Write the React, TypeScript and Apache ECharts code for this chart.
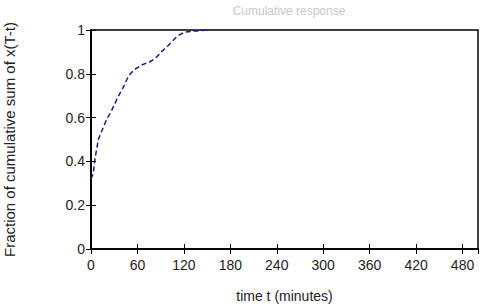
import React, { useEffect, useRef } from "react";
import * as echarts from "echarts";

const timeMinutes = [0, 3, 5, 9.5, 14, 20, 27, 35, 42, 48, 55, 65.5, 76, 83, 91, 100, 111, 120, 135, 150];
const cumulativeFraction = [0.32, 0.346, 0.41, 0.5, 0.54, 0.59, 0.635, 0.695, 0.74, 0.787, 0.817, 0.84, 0.855, 0.87, 0.9, 0.93, 0.97, 0.99, 0.995, 1.0];
const titleText = "Cumulative response";
const xLabel = "time t (minutes)";
const yLabel = "Fraction of cumulative sum of x(T-t)";

export default function App() {
  const ref = useRef<HTMLDivElement>(null);
  useEffect(() => {
    if (!ref.current) return;
    const chart = echarts.init(ref.current, undefined, { renderer: "svg" });
    const font = "Liberation Sans, Arial, sans-serif";
    chart.setOption({
      animation: false,
      backgroundColor: "#fff",
      title: {
        text: titleText,
        left: 284,
        textAlign: "center",
        top: 0,
        textStyle: { color: "#c8c8c8", fontSize: 12, fontWeight: "normal", fontFamily: font },
      },
      grid: {
        left: 91, right: 8, top: 30, bottom: 59,
        show: true, borderColor: "#000", borderWidth: 1.5,
        containLabel: false, outerBoundsMode: "none",
      },
      xAxis: [
        {
          type: "value",
          min: 0,
          max: 500,
          interval: 60,
          name: xLabel,
          nameLocation: "middle",
          nameGap: 40,
          nameTextStyle: { color: "#222", fontSize: 14, fontFamily: font },
          axisLine: { show: true, lineStyle: { color: "#000", width: 1.5 } },
          axisTick: { inside: true, length: 5, lineStyle: { color: "#000" } },
          axisLabel: { color: "#222", fontSize: 14, fontFamily: font, showMaxLabel: false, margin: 9 },
          splitLine: { show: false },
        },
        {
          type: "value",
          position: "top",
          min: 0,
          max: 500,
          interval: 60,
          axisLine: { show: true, lineStyle: { color: "#000", width: 1.5 } },
          axisTick: { inside: true, length: 5, lineStyle: { color: "#000" } },
          axisLabel: { show: false },
          splitLine: { show: false },
        },
      ],
      yAxis: [
        {
          type: "value",
          min: 0,
          max: 1,
          interval: 0.2,
          name: yLabel,
          nameLocation: "middle",
          nameGap: 74,
          nameTextStyle: { color: "#222", fontSize: 15, fontFamily: font },
          axisLine: { show: true, lineStyle: { color: "#000", width: 1.5 } },
          axisTick: { inside: true, length: 5, lineStyle: { color: "#000" } },
          axisLabel: { color: "#222", fontSize: 14, fontFamily: font, margin: 6 },
          splitLine: { show: false },
        },
        {
          type: "value",
          position: "right",
          min: 0,
          max: 1,
          interval: 0.2,
          axisLine: { show: true, lineStyle: { color: "#000", width: 1.5 } },
          axisTick: { inside: true, length: 5, lineStyle: { color: "#000" } },
          axisLabel: { show: false },
          splitLine: { show: false },
        },
      ],
      series: [
        {
          type: "line",
          data: timeMinutes.map((t, i) => [t, cumulativeFraction[i]]),
          showSymbol: false,
          lineStyle: { color: "#1c1c78", width: 1.5, type: [5, 3] },
        },
      ],
    });
    return () => chart.dispose();
  }, []);
  return <div ref={ref} style={{ width: 486, height: 308, position: "absolute", left: 0, top: 0 }} />;
}
